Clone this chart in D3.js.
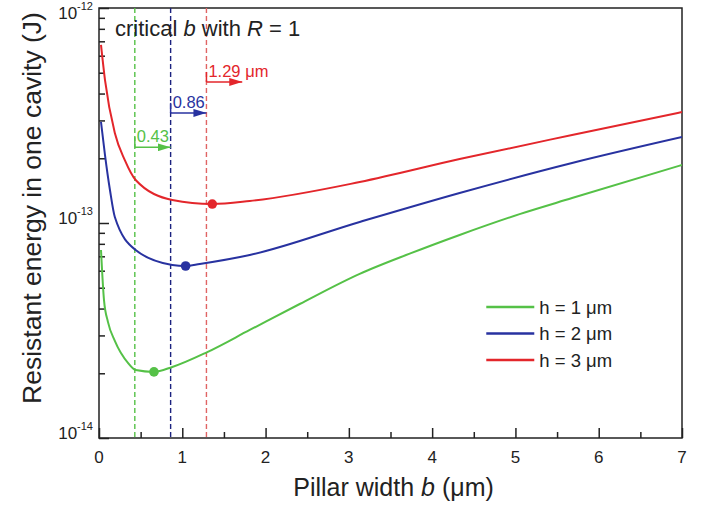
<!DOCTYPE html>
<html>
<head>
<meta charset="utf-8">
<script src="https://cdnjs.cloudflare.com/ajax/libs/d3/7.8.5/d3.min.js"></script>
<style>
  body { margin: 0; background: #fff; }
  text { font-family: Arial, 'Liberation Sans', sans-serif; fill: #222; }
</style>
</head>
<body>
<div class="visHolder"></div>
<script>
// data (b in um, energy in J)
var bH1 = [0.024, 0.06, 0.108, 0.19, 0.35, 0.44, 0.66, 0.88, 1.3, 1.81, 2.41, 3.13, 3.73, 4.33, 5.05, 5.68, 7];
var eH1 = [7.49e-14, 4.38e-14, 3.46e-14, 2.83e-14, 2.23e-14, 2.07e-14, 2.03e-14, 2.14e-14, 2.51e-14, 3.18e-14, 4.2e-14, 5.8e-14, 7.2e-14, 8.8e-14, 1.1e-13, 1.306e-13, 1.862e-13];

var bH2 = [0.024, 0.072, 0.132, 0.19, 0.44, 0.88, 1.04, 1.21, 1.81, 3.13, 4.33, 5.68, 7];
var eH2 = [2.95e-13, 2.07e-13, 1.42e-13, 1.066e-13, 7.49e-14, 6.38e-14, 6.31e-14, 6.45e-14, 7.1e-14, 1.011e-13, 1.379e-13, 1.901e-13, 2.51e-13];

var bH3 = [0.024, 0.072, 0.19, 0.31, 0.44, 0.88, 1.36, 1.81, 3.13, 4.33, 5.68, 7];
var eH3 = [6.73e-13, 4.62e-13, 2.62e-13, 1.96e-13, 1.585e-13, 1.28e-13, 1.225e-13, 1.265e-13, 1.551e-13, 1.984e-13, 2.566e-13, 3.28e-13];

var seriesLabels = ['h = 1 \u03bcm', 'h = 2 \u03bcm', 'h = 3 \u03bcm'];
var seriesColors = ['#55c147', '#2832a0', '#e3262b'];
var dashColors = ['#55c147', '#1c2380', '#e06464'];

var minB = [0.66, 1.04, 1.36];
var minE = [2.03e-14, 6.31e-14, 1.225e-13];

var criticalB = [0.43, 0.86, 1.29];
var arrowEnd = [0.86, 1.29, 1.72];
var arrowLevel = [2.25e-13, 3.25e-13, 4.53e-13];
var criticalText = ['0.43', '0.86', '1.29 \u03bcm'];

var xTicks = [0, 1, 2, 3, 4, 5, 6, 7];
var xMinorTicks = [0.5, 1.5, 2.5, 3.5, 4.5, 5.5, 6.5];
var yExponents = [-12, -13, -14];

var width = 583,
  height = 430,
  marginLeft = 99,
  marginTop = 8;

var svg = d3
  .select('.visHolder')
  .append('svg')
  .attr('width', 706)
  .attr('height', 506);

var defs = svg.append('defs');

var plot = svg
  .append('g')
  .attr('transform', 'translate(' + marginLeft + ',' + marginTop + ')');

var xScale = d3.scaleLinear().domain([0, 7]).range([0, width]);
var yScale = d3.scaleLog().domain([1e-14, 1e-12]).range([height, 0]);

defs
  .append('clipPath')
  .attr('id', 'clip')
  .append('rect')
  .attr('width', width)
  .attr('height', height);

// arrow heads
defs
  .selectAll('marker')
  .data(seriesColors)
  .enter()
  .append('marker')
  .attr('id', function (d, i) { return 'arrow' + i; })
  .attr('markerUnits', 'userSpaceOnUse')
  .attr('markerWidth', 13)
  .attr('markerHeight', 8)
  .attr('refX', 13)
  .attr('refY', 4)
  .attr('orient', 'auto')
  .append('path')
  .attr('d', 'M0,0 L13,4 L0,8 Z')
  .style('fill', function (d) { return d; });

// axes: ticks pointing inward
var yMajor = yExponents.map(function (e) { return Math.pow(10, e); });
var yMinor = yScale.ticks().filter(function (v) {
  return yMajor.every(function (m) { return Math.abs(v - m) / m > 1e-6; });
});

plot
  .append('g')
  .attr('class', 'axis')
  .call(d3.axisLeft(yScale).tickValues(yMinor).tickSize(-6).tickFormat(''));
plot
  .append('g')
  .attr('class', 'axis')
  .call(d3.axisLeft(yScale).tickValues(yMajor).tickSize(-10).tickFormat(''));
plot
  .append('g')
  .attr('class', 'axis')
  .attr('transform', 'translate(0,' + height + ')')
  .call(d3.axisBottom(xScale).tickValues(xMinorTicks).tickSize(-6).tickFormat(''));
plot
  .append('g')
  .attr('class', 'axis')
  .attr('transform', 'translate(0,' + height + ')')
  .call(d3.axisBottom(xScale).tickValues(xTicks).tickSize(-10).tickFormat(''));

plot.selectAll('.axis .domain').remove();
plot.selectAll('.axis line').style('stroke', '#222').style('stroke-width', 1.5);

// frame
plot
  .append('rect')
  .attr('width', width)
  .attr('height', height)
  .style('fill', 'none')
  .style('stroke', '#222')
  .style('stroke-width', 1.5);

// tick labels
plot
  .selectAll('.xlabel')
  .data(xTicks)
  .enter()
  .append('text')
  .attr('class', 'xlabel')
  .attr('x', function (d) { return xScale(d); })
  .attr('y', height + 25)
  .attr('text-anchor', 'middle')
  .style('font-size', '17px')
  .text(function (d) { return d; });

var yLabels = plot
  .selectAll('.ylabel')
  .data(yExponents)
  .enter()
  .append('text')
  .attr('class', 'ylabel')
  .attr('x', -6)
  .attr('y', function (d) { return Math.max(yScale(Math.pow(10, d)) + 1, 11); })
  .attr('text-anchor', 'end')
  .style('font-size', '17px');
yLabels.append('tspan').text('10');
yLabels
  .append('tspan')
  .attr('dy', -9)
  .style('font-size', '11px')
  .text(function (d) { return d; });

// axis titles
var xTitle = svg
  .append('text')
  .attr('x', marginLeft + width / 2 + 3)
  .attr('y', 496)
  .attr('text-anchor', 'middle')
  .style('font-size', '25px');
xTitle.append('tspan').text('Pillar width ');
xTitle.append('tspan').style('font-style', 'italic').text('b');
xTitle.append('tspan').text(' (\u03bcm)');

svg
  .append('text')
  .attr('transform', 'translate(41,208) rotate(-90)')
  .attr('text-anchor', 'middle')
  .style('font-size', '26.5px')
  .text('Resistant energy in one cavity (J)');

// critical b dashed lines
plot
  .selectAll('.critical')
  .data(criticalB)
  .enter()
  .append('line')
  .attr('class', 'critical')
  .attr('x1', function (d) { return xScale(d); })
  .attr('x2', function (d) { return xScale(d); })
  .attr('y1', 0)
  .attr('y2', height)
  .style('stroke', function (d, i) { return dashColors[i]; })
  .style('stroke-width', 1.4)
  .style('stroke-dasharray', '5,3');

// curves
var series = [
  { b: bH1, e: eH1 },
  { b: bH2, e: eH2 },
  { b: bH3, e: eH3 }
];

var line = d3
  .line()
  .x(function (d) { return xScale(d[0]); })
  .y(function (d) { return yScale(d[1]); })
  .curve(d3.curveMonotoneX);

plot
  .append('g')
  .attr('clip-path', 'url(#clip)')
  .selectAll('path')
  .data(series)
  .enter()
  .append('path')
  .attr('d', function (s) {
    return line(s.b.map(function (b, j) { return [b, s.e[j]]; }));
  })
  .style('fill', 'none')
  .style('stroke', function (d, i) { return seriesColors[i]; })
  .style('stroke-width', 2);

// minima
plot
  .selectAll('.minimum')
  .data(minB)
  .enter()
  .append('circle')
  .attr('class', 'minimum')
  .attr('cx', function (d) { return xScale(d); })
  .attr('cy', function (d, i) { return yScale(minE[i]); })
  .attr('r', 4.8)
  .style('fill', function (d, i) { return seriesColors[i]; });

// arrows with labels
var arrows = plot
  .selectAll('.arrow')
  .data(criticalB)
  .enter()
  .append('g')
  .attr('class', 'arrow');

arrows
  .append('line')
  .attr('x1', function (d) { return xScale(d); })
  .attr('x2', function (d, i) { return xScale(arrowEnd[i]); })
  .attr('y1', function (d, i) { return yScale(arrowLevel[i]); })
  .attr('y2', function (d, i) { return yScale(arrowLevel[i]); })
  .attr('marker-end', function (d, i) { return 'url(#arrow' + i + ')'; })
  .style('stroke', function (d, i) { return seriesColors[i]; })
  .style('stroke-width', 1.5);

arrows
  .append('line')
  .attr('x1', function (d) { return xScale(d); })
  .attr('x2', function (d) { return xScale(d); })
  .attr('y1', function (d, i) { return yScale(arrowLevel[i]); })
  .attr('y2', function (d, i) { return yScale(arrowLevel[i]) - 10; })
  .style('stroke', function (d, i) { return seriesColors[i]; })
  .style('stroke-width', 1.5);

arrows
  .append('text')
  .attr('x', function (d) { return xScale(d) + 2; })
  .attr('y', function (d, i) { return yScale(arrowLevel[i]) - 5; })
  .style('font-size', '16.5px')
  .style('fill', function (d, i) { return seriesColors[i]; })
  .text(function (d, i) { return criticalText[i]; });

// note
var note = plot
  .append('text')
  .attr('x', 16)
  .attr('y', 28)
  .style('font-size', '22px');
note.append('tspan').text('critical ');
note.append('tspan').style('font-style', 'italic').text('b');
note.append('tspan').text(' with ');
note.append('tspan').style('font-style', 'italic').text('R');
note.append('tspan').text(' = 1');

// legend
var legend = plot
  .selectAll('.legend')
  .data(seriesLabels)
  .enter()
  .append('g')
  .attr('class', 'legend')
  .attr('transform', function (d, i) {
    return 'translate(' + xScale(4.65) + ',' + (299 + i * 26.5) + ')';
  });

legend
  .append('line')
  .attr('x1', 0)
  .attr('x2', 48)
  .style('stroke', function (d, i) { return seriesColors[i]; })
  .style('stroke-width', 2.5);

legend
  .append('text')
  .attr('x', 53)
  .attr('dy', '0.36em')
  .style('font-size', '18.5px')
  .text(function (d) { return d; });
</script>
</body>
</html>
